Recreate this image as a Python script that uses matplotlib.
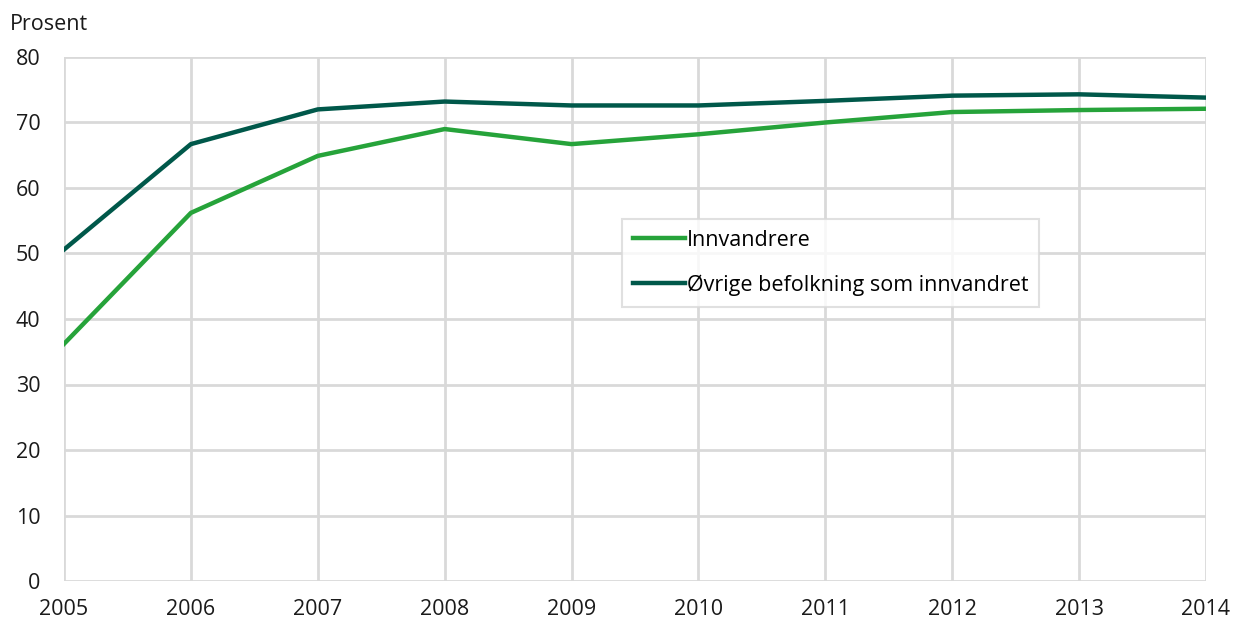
import matplotlib
matplotlib.use('Agg')
import matplotlib.pyplot as plt

years = [2005, 2006, 2007, 2008, 2009, 2010, 2011, 2012, 2013, 2014]
innvandrere = [36.2, 56.2, 64.9, 69.0, 66.7, 68.2, 70.0, 71.6, 71.9, 72.1]
ovrige = [50.6, 66.7, 72.0, 73.2, 72.6, 72.6, 73.3, 74.1, 74.3, 73.8]
yticks = [0, 10, 20, 30, 40, 50, 60, 70, 80]

plt.rcParams['font.family'] = ['Open Sans', 'DejaVu Sans']
plt.rcParams['font.size'] = 15.5

fig = plt.figure(figsize=(12.35, 6.22), dpi=100)
ax = fig.add_axes([64 / 1235, 1 - 581 / 622, 1142 / 1235, 524 / 622])

grid_c = '#d9d9d9'
ax.plot(years, innvandrere, color='#26a33a', lw=3.2, label='Innvandrere', zorder=3)
ax.plot(years, ovrige, color='#00584a', lw=3.2, label='Øvrige befolkning som innvandret', zorder=3)

ax.set_xlim(2005, 2014)
ax.set_ylim(0, 80)
ax.set_xticks(years)
ax.set_yticks(yticks)
ax.grid(True, color=grid_c, lw=2)
ax.set_axisbelow(True)
for s in ax.spines.values():
    s.set_visible(False)
ax.tick_params(length=0, colors='#1a1a1a')
ax.tick_params(axis='x', pad=13)
ax.tick_params(axis='y', pad=17)

fig.text(10 / 1235, 1 - 25 / 622, 'Prosent', fontsize=15.5, va='center', ha='left', color='#1a1a1a')

leg = ax.legend(loc='upper left', bbox_to_anchor=(0.489, 0.691), frameon=True, fancybox=False,
                handlelength=2.4, handletextpad=0.1, borderpad=0.5, labelspacing=1.1,
                borderaxespad=0)
leg.get_frame().set_edgecolor(grid_c)
leg.get_frame().set_linewidth(1.5)

fig.savefig('out.png', dpi=100)
